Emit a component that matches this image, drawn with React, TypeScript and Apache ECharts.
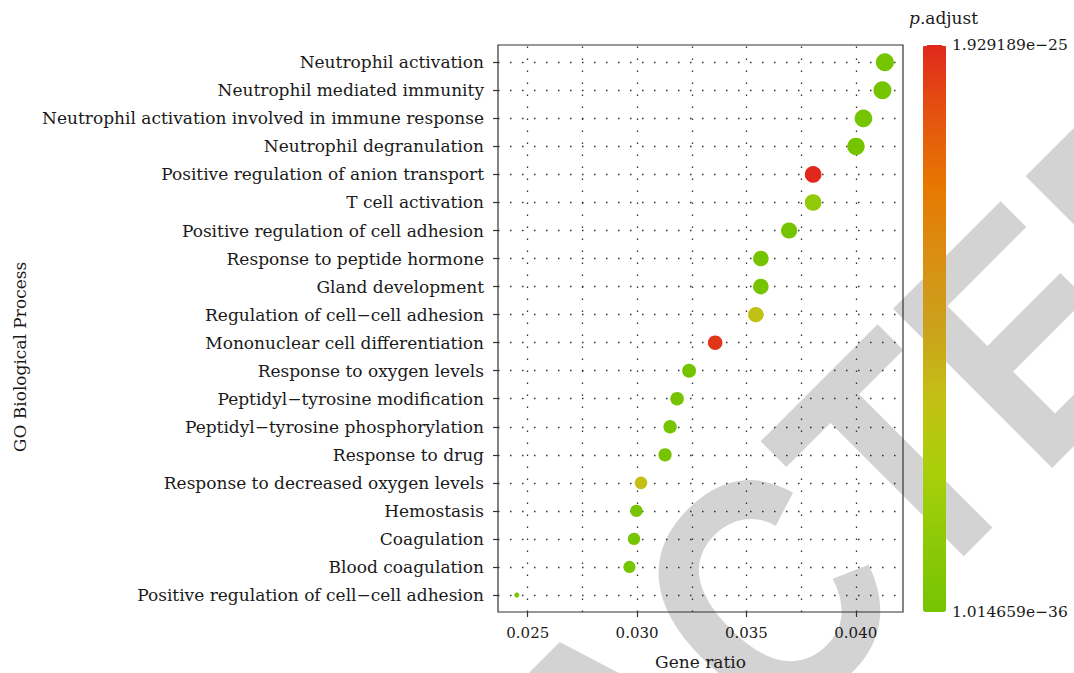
import React, { useEffect, useRef } from 'react';
import * as echarts from 'echarts';

const CATEGORIES = [
  'Neutrophil activation',
  'Neutrophil mediated immunity',
  'Neutrophil activation involved in immune response',
  'Neutrophil degranulation',
  'Positive regulation of anion transport',
  'T cell activation',
  'Positive regulation of cell adhesion',
  'Response to peptide hormone',
  'Gland development',
  'Regulation of cell\u2212cell adhesion',
  'Mononuclear cell differentiation',
  'Response to oxygen levels',
  'Peptidyl\u2212tyrosine modification',
  'Peptidyl\u2212tyrosine phosphorylation',
  'Response to drug',
  'Response to decreased oxygen levels',
  'Hemostasis',
  'Coagulation',
  'Blood coagulation',
  'Positive regulation of cell\u2212cell adhesion',
];

const GENE_RATIO = [
  0.04133, 0.04122, 0.04035, 0.04001, 0.03805, 0.03805, 0.03695, 0.03566, 0.03566, 0.03543,
  0.03357, 0.03238, 0.03183, 0.03151, 0.03128, 0.03018, 0.02997, 0.02986, 0.02965, 0.0245,
];

const P_ADJUST = [
  1.014659e-36, 3.2e-36, 2.1e-34, 1.5e-34, 1.929189e-25, 2.8e-26, 4.3e-30, 6.1e-29, 7.5e-29, 6.9e-26,
  1.86e-25, 2.2e-28, 3.4e-28, 2.9e-28, 4.8e-28, 7.4e-26, 1.2e-27, 1.1e-27, 1.3e-27, 5.2e-27,
];

const X_MIN = 0.02364;
const X_MAX = 0.04216;
const X_TICKS = [0.025, 0.03, 0.035, 0.04];
const X_GRID = [0.025, 0.0275, 0.03, 0.0325, 0.035, 0.0375, 0.04];

const P_MIN = 1.014659e-36;
const P_MAX = 1.929189e-25;
const P_STEP = 4.822972e-26;
const P_TICK_LABELS = [
  '1.014659e\u221236',
  '4.822972e\u221226',
  '9.645944e\u221226',
  '1.446892e\u221225',
  '1.929189e\u221225',
];

const COLORS = [
  '#76C400', '#8DC908', '#A9D00A', '#C3C014', '#CBA21C', '#D98F14', '#E77800', '#E55410', '#E0281C',
];

const SIZE_RANGE = [5, 18];

const FONT = '"DejaVu Serif", serif';
const TEXT = '#1a1a1a';

export default function App() {
  const ref = useRef<HTMLDivElement>(null);

  useEffect(() => {
    if (!ref.current) return;
    const chart = echarts.init(ref.current, null, { renderer: 'svg' });
    const rMin = Math.min(...GENE_RATIO);
    const rMax = Math.max(...GENE_RATIO);
    const dotted = { color: '#333', width: 1.3, type: [1.5, 10.5] };

    const option: any = {
      animation: false,
      backgroundColor: '#ffffff',
      grid: [
        { left: 498, top: 45, width: 405, height: 567, show: true, borderColor: '#333', borderWidth: 1.2, backgroundColor: 'transparent', outerBoundsMode: 'none', containLabel: false },
        { left: 498, top: 62.3, width: 405, height: 532.7, outerBoundsMode: 'none', containLabel: false },
        { left: 923, top: 45, width: 23, height: 567, outerBoundsMode: 'none', containLabel: false },
      ],
      xAxis: [
        {
          gridIndex: 0,
          type: 'value',
          min: X_MIN,
          max: X_MAX,
          splitNumber: 4,
          axisLine: { show: false },
          splitLine: { show: false },
          axisTick: { show: true, length: 5, lineStyle: { color: '#333', width: 1.2 }, customValues: X_TICKS },
          axisLabel: {
            customValues: X_TICKS,
            margin: 13,
            fontFamily: FONT,
            fontSize: 15,
            color: TEXT,
            formatter: (v: number) => v.toFixed(3),
          },
          name: 'Gene ratio',
          nameLocation: 'middle',
          nameGap: 41,
          nameTextStyle: { fontFamily: FONT, fontSize: 17, color: TEXT },
        },
        { gridIndex: 1, type: 'value', min: X_MIN, max: X_MAX, show: false },
        { gridIndex: 2, type: 'value', min: 0, max: 1, show: false },
      ],
      yAxis: [
        { gridIndex: 0, type: 'value', min: 0, max: 1, show: false },
        {
          gridIndex: 1,
          type: 'category',
          data: CATEGORIES,
          inverse: true,
          boundaryGap: false,
          axisLine: { show: false },
          axisTick: { show: true, interval: 0, length: 5, lineStyle: { color: '#333', width: 1.2 } },
          axisLabel: { interval: 0, margin: 14, fontFamily: FONT, fontSize: 17, color: TEXT },
          splitLine: { show: true, interval: 0, lineStyle: dotted },
        },
        {
          gridIndex: 2,
          type: 'value',
          position: 'left',
          min: 0,
          max: 4 * P_STEP,
          interval: P_STEP,
          z: 10,
          axisLine: { show: false },
          splitLine: { show: false },
          axisTick: { show: true, inside: true, length: 4, lineStyle: { color: '#ffffff', width: 1 } },
          axisLabel: { show: false },
        },
        {
          gridIndex: 2,
          type: 'value',
          position: 'right',
          min: 0,
          max: 4 * P_STEP,
          interval: P_STEP,
          z: 10,
          axisLine: { show: false },
          splitLine: { show: false },
          axisTick: { show: true, inside: true, length: 4, lineStyle: { color: '#ffffff', width: 1 } },
          axisLabel: {
            show: true,
            margin: 6,
            fontFamily: FONT,
            fontSize: 15.5,
            color: TEXT,
            formatter: (v: number) => P_TICK_LABELS[Math.round(v / P_STEP)] ?? '',
          },
        },
      ],
      visualMap: {
        type: 'continuous',
        seriesIndex: 0,
        dimension: 2,
        min: P_MIN,
        max: P_MAX,
        inRange: { color: COLORS },
        show: true,
        calculable: false,
        hoverLink: false,
        itemWidth: 23,
        itemHeight: 567,
        left: 923,
        top: 45,
        padding: 0,
        text: null,
        z: 4,
      },
      series: [
        {
          type: 'scatter',
          xAxisIndex: 1,
          yAxisIndex: 1,
          clip: false,
          z: 5,
          data: CATEGORIES.map((c, i) => [GENE_RATIO[i], i, P_ADJUST[i]]),
          symbolSize: (d: number[]) =>
            SIZE_RANGE[0] + (SIZE_RANGE[1] - SIZE_RANGE[0]) * Math.sqrt((d[0] - rMin) / (rMax - rMin)),
          itemStyle: { opacity: 1 },
        },
        {
          type: 'line',
          xAxisIndex: 0,
          yAxisIndex: 0,
          data: [],
          silent: true,
          markLine: {
            silent: true,
            precision: 6,
            symbol: ['none', 'none'],
            label: { show: false },
            lineStyle: dotted,
            data: X_GRID.map((v) => ({ xAxis: v })),
          },
        },
      ],
      graphic: [
        {
          type: 'text',
          x: 622,
          y: 738,
          rotation: Math.PI / 4,
          scaleX: 0.86,
          z: -10,
          silent: true,
          style: {
            text: 'RETRACTED',
            fontSize: 327,
            fontWeight: 'bold',
            fontFamily: '"Liberation Sans", sans-serif',
            fill: '#D3D3D3',
            align: 'center',
            verticalAlign: 'middle',
          },
        },
        {
          type: 'text',
          x: 20,
          y: 357,
          rotation: Math.PI / 2,
          style: {
            text: 'GO Biological Process',
            fontSize: 17,
            fontFamily: FONT,
            fill: TEXT,
            align: 'center',
            verticalAlign: 'middle',
          },
        },
        {
          type: 'text',
          x: 909,
          y: 18,
          style: {
            text: '{i|p}.adjust',
            fontSize: 17,
            fontFamily: FONT,
            fill: TEXT,
            align: 'left',
            verticalAlign: 'middle',
            rich: { i: { fontStyle: 'italic', fontSize: 17, fontFamily: FONT, fill: TEXT } },
          },
        },
      ],
    };

    chart.setOption(option);
    return () => chart.dispose();
  }, []);

  return <div ref={ref} style={{ position: 'fixed', left: 0, top: 0, width: 1074, height: 673 }} />;
}
